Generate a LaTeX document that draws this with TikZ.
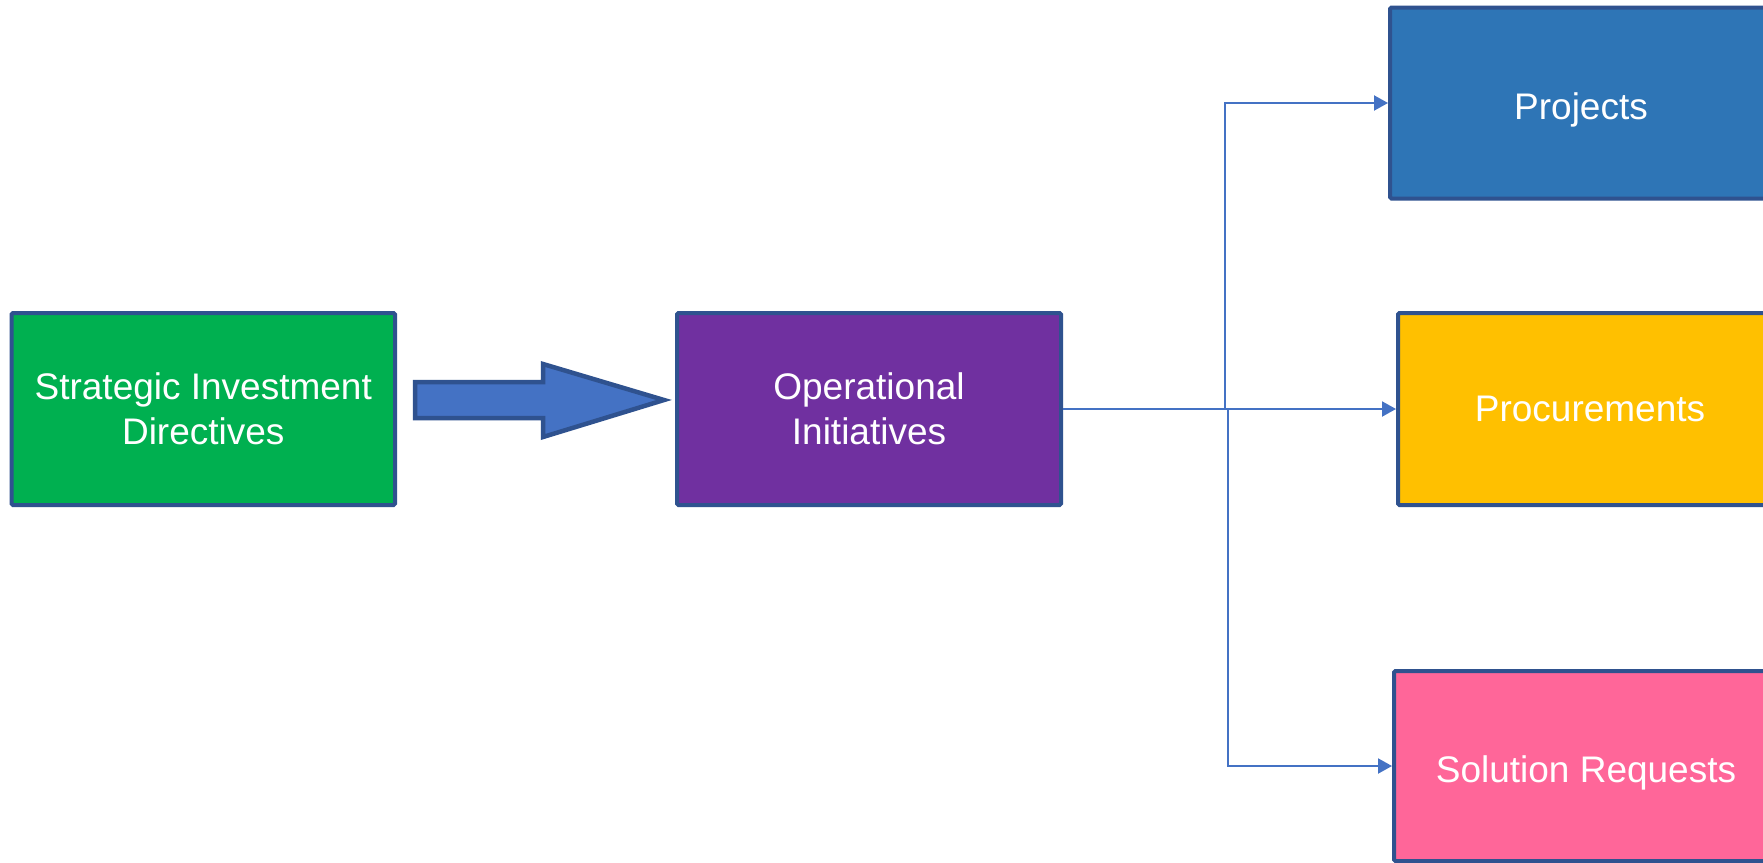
\documentclass[tikz,border=0pt]{standalone}
\usepackage{fontspec}
\setmainfont{Liberation Sans}
\usetikzlibrary{arrows.meta}
\definecolor{bordc}{HTML}{2F528F}
\definecolor{linec}{HTML}{4472C4}
\definecolor{greenc}{HTML}{00B050}
\definecolor{purplec}{HTML}{7030A0}
\definecolor{bluec}{HTML}{2E75B6}
\definecolor{yellowc}{HTML}{FFC000}
\definecolor{pinkc}{HTML}{FF6699}
\tikzset{
  box/.style={draw=bordc, line width=4pt, rounded corners=1.5pt, inner sep=0pt,
    text=white, align=center, font=\fontsize{37}{45}\selectfont},
  oneline/.style={text depth=0pt},
  lowline/.style={text height=33pt, text depth=0pt},
  conn/.style={draw=linec, line width=2pt, -{Triangle[length=14pt,width=15pt]}},
  blockarrow/.style={draw=bordc, fill=linec, line width=4.5pt, line join=miter}
}
\begin{document}
\begin{tikzpicture}[x=1pt,y=-1pt]
\clip (0,0) rectangle (1763,862);
\fill[white] (0,0) rectangle (1763,862);

\node[box, fill=greenc, minimum width=383.5pt, minimum height=192pt] (sid) at (203.25,409) {Strategic Investment\\Directives};
\node[box, fill=purplec, minimum width=384pt, minimum height=192pt] (oi) at (869,409) {Operational\\Initiatives};

\node[box, lowline, fill=bluec, minimum width=382pt, minimum height=191pt] (proj) at (1581,103) {Projects};
\node[box, oneline, fill=yellowc, minimum width=384pt, minimum height=192pt] (proc) at (1590,409) {Procurements};
\node[box, lowline, fill=pinkc, minimum width=384pt, minimum height=190pt] (sol) at (1586,766) {Solution Requests};

\path[blockarrow] (415,382) -- (543,382) -- (543,364) -- (664,400) -- (543,437) -- (543,418) -- (415,418) -- cycle;

\coordinate (ja) at (1225,409);
\coordinate (jb) at (1228,409);
\draw[conn] (oi.east) -- (ja) |- (proj.west);
\draw[conn] (oi.east) -- (proc.west);
\draw[conn] (oi.east) -- (jb) |- (sol.west);
\end{tikzpicture}
\end{document}
